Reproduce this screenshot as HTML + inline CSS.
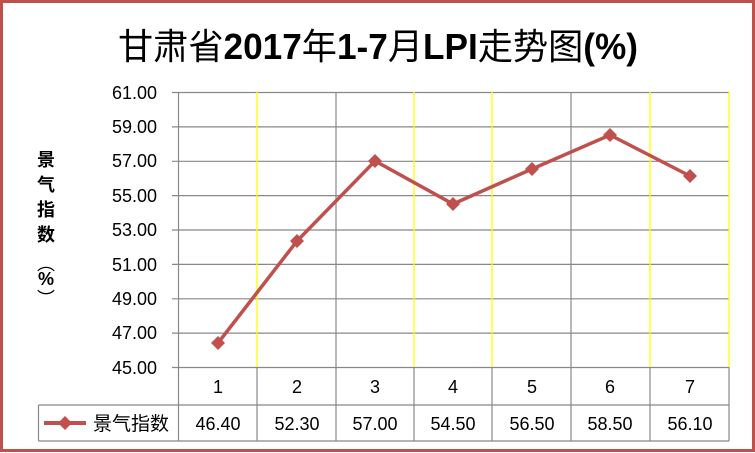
<!DOCTYPE html>
<html><head><meta charset="utf-8"><style>
body{margin:0;background:#fff}
svg{display:block}
text{font-family:"Liberation Sans","Noto Sans CJK SC",sans-serif}
</style></head><body>
<svg width="755" height="453" viewBox="0 0 755 453">
<rect x="1.5" y="1.5" width="752" height="449" fill="#fff" stroke="#c0504d" stroke-width="3"/>
<text x="378" y="59" text-anchor="middle" font-size="36" fill="#000" textLength="520" lengthAdjust="spacingAndGlyphs"><tspan font-family="Noto Sans CJK SC">甘肃省</tspan><tspan font-weight="bold">2017</tspan><tspan font-family="Noto Sans CJK SC">年</tspan><tspan font-weight="bold">1-7</tspan><tspan font-family="Noto Sans CJK SC">月</tspan><tspan font-weight="bold">LPI</tspan><tspan font-family="Noto Sans CJK SC">走势图</tspan><tspan font-weight="bold">(%)</tspan></text>
<g font-size="18" font-weight="bold" text-anchor="middle" fill="#000">
<text x="46" y="166">景</text><text x="46" y="191">气</text><text x="46" y="216">指</text><text x="46" y="241">数</text>
<text x="46" y="270" font-weight="normal">︵</text><text x="46" y="285">%</text><text x="46" y="305" font-weight="normal">︶</text>
</g>
<g stroke="#888" stroke-width="1.2">
<line x1="172" y1="92.5" x2="729" y2="92.5"/><line x1="172" y1="126.9" x2="729" y2="126.9"/>
<line x1="172" y1="161.3" x2="729" y2="161.3"/><line x1="172" y1="195.6" x2="729" y2="195.6"/>
<line x1="172" y1="230" x2="729" y2="230"/><line x1="172" y1="264.4" x2="729" y2="264.4"/>
<line x1="172" y1="298.8" x2="729" y2="298.8"/><line x1="172" y1="333.1" x2="729" y2="333.1"/>
<line x1="172" y1="367.5" x2="729" y2="367.5"/>
<line x1="178.5" y1="92" x2="178.5" y2="441"/>
<line x1="336" y1="367" x2="336" y2="441"/><line x1="257" y1="367" x2="257" y2="441"/>
<line x1="414" y1="367" x2="414" y2="441"/><line x1="492" y1="367" x2="492" y2="441"/>
<line x1="571" y1="367" x2="571" y2="441"/><line x1="650" y1="367" x2="650" y2="441"/>
<line x1="729" y1="367" x2="729" y2="441"/>
<line x1="38.5" y1="405" x2="729" y2="405"/><line x1="38.5" y1="441" x2="729" y2="441"/>
<line x1="38.5" y1="405" x2="38.5" y2="441"/>
<line x1="336" y1="92" x2="336" y2="367"/><line x1="571" y1="92" x2="571" y2="367"/>
</g>
<g stroke="#ffff00" stroke-width="1.3">
<line x1="257" y1="92" x2="257" y2="367"/><line x1="414" y1="92" x2="414" y2="367"/>
<line x1="492" y1="92" x2="492" y2="367"/><line x1="650" y1="92" x2="650" y2="367"/>
<line x1="729" y1="92" x2="729" y2="367"/>
</g>
<g font-size="18" text-anchor="end" fill="#000">
<text x="157" y="99">61.00</text><text x="157" y="133">59.00</text><text x="157" y="167">57.00</text>
<text x="157" y="202">55.00</text><text x="157" y="236">53.00</text><text x="157" y="271">51.00</text>
<text x="157" y="305">49.00</text><text x="157" y="339">47.00</text><text x="157" y="374">45.00</text>
</g>
<g font-size="18" text-anchor="middle" fill="#000">
<text x="218" y="393">1</text><text x="297" y="393">2</text><text x="375" y="393">3</text><text x="453" y="393">4</text>
<text x="532" y="393">5</text><text x="610" y="393">6</text><text x="690" y="393">7</text>
<text x="218" y="430">46.40</text><text x="297" y="430">52.30</text><text x="375" y="430">57.00</text><text x="453" y="430">54.50</text>
<text x="532" y="430">56.50</text><text x="610" y="430">58.50</text><text x="690" y="430">56.10</text>
<text x="131" y="430" font-size="19" font-family="Noto Sans CJK SC">景气指数</text>
</g>
<line x1="44" y1="423" x2="86" y2="423" stroke="#c0504d" stroke-width="4"/>
<path d="M65 416 L72 423 L65 430 L58 423Z" fill="#c0504d"/>
<polyline points="218,343 297,241 375,161 453,204 532,169 610,135 690,176" fill="none" stroke="#c0504d" stroke-width="3.5"/>
<g fill="#c0504d">
<path d="M218 336 L225 343 L218 350 L211 343Z"/><path d="M297 234 L304 241 L297 248 L290 241Z"/>
<path d="M375 154 L382 161 L375 168 L368 161Z"/><path d="M453 197 L460 204 L453 211 L446 204Z"/>
<path d="M532 162 L539 169 L532 176 L525 169Z"/><path d="M610 128 L617 135 L610 142 L603 135Z"/>
<path d="M690 169 L697 176 L690 183 L683 176Z"/>
</g>
</svg>
</body></html>
